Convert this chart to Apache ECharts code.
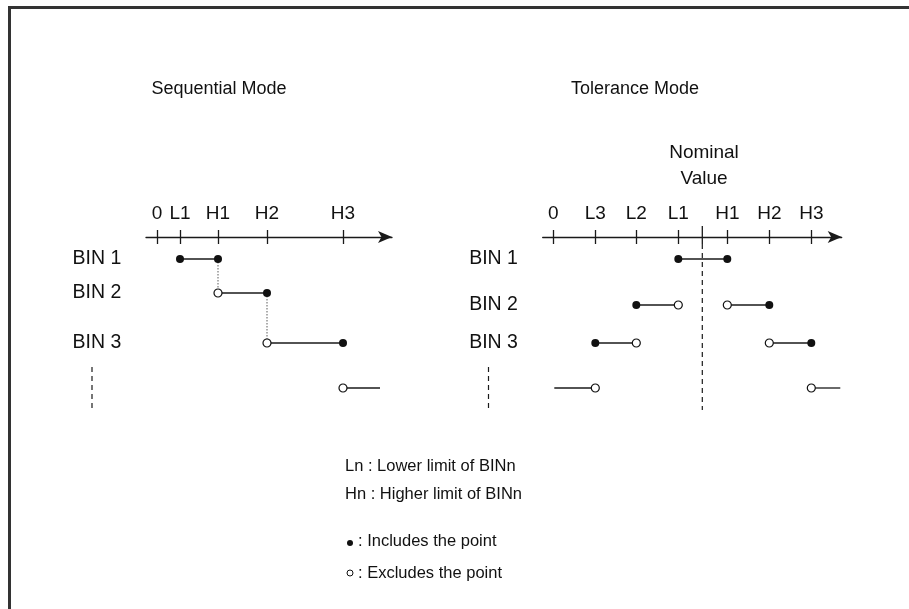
<!DOCTYPE html>
<html><head><meta charset="utf-8">
<script src="https://cdn.jsdelivr.net/npm/echarts@6/dist/echarts.min.js"></script>
<style>html,body{margin:0;padding:0;background:#fff}#c{width:909px;height:609px}</style>
</head><body><div id="c"></div>
<script>
// ---------- Sequential Mode ----------
const seqTickLabels = ['0', 'L1', 'H1', 'H2', 'H3'];
const seqTickValues = [0, 23, 61, 110, 186];
const seqBinLabels = ['BIN 1', 'BIN 2', 'BIN 3'];
const seqRowValues = [22, 56, 106, 151];          // BIN1, BIN2, BIN3, continuation row
// [from, to, rowIndex, fromIncluded, toIncluded]  (null = open-ended, no marker)
const seqSegments = [
  [23, 61, 0, true, true],
  [61, 110, 1, false, true],
  [110, 186, 2, false, true],
  [186, 223, 3, false, null]
];
// dotted links: [x, fromRow, toRow]
const seqLinks = [[61, 0, 1], [110, 1, 2]];

// ---------- Tolerance Mode ----------
const tolTickLabels = ['0', 'L3', 'L2', 'L1', 'H1', 'H2', 'H3'];
const tolTickValues = [0, 42, 83, 125, 174, 216, 258];
const tolNominal = 149;
const tolBinLabels = ['BIN 1', 'BIN 2', 'BIN 3'];
const tolRowValues = [22, 68, 106, 151];
const tolSegments = [
  [125, 174, 0, true, true],
  [83, 125, 1, true, false],
  [174, 216, 1, false, true],
  [42, 83, 2, true, false],
  [216, 258, 2, false, true],
  [1, 42, 3, null, false],
  [258, 287, 3, false, null]
];
const ellipsisRows = [130, 175];

// ---------- Notes ----------
const noteLines = ['Ln : Lower limit of BINn', 'Hn : Higher limit of BINn'];
const markerNotes = [': Includes the point', ': Excludes the point'];

const FONT = '"Liberation Sans", Arial, sans-serif';
const FS = 19;
const TXT = '#111';
const INK = '#1a1a1a';

const chart = echarts.init(document.getElementById('c'));

const panels = [
  { left: 146, width: 246, min: -11, max: 235, ticks: seqTickValues, labels: seqTickLabels,
    rows: seqRowValues, bins: seqBinLabels, segments: seqSegments, links: seqLinks, nominal: null, ellLeft: 80 },
  { left: 542.7, width: 299, min: -10.6, max: 288.4, ticks: tolTickValues, labels: tolTickLabels,
    rows: tolRowValues, bins: tolBinLabels, segments: tolSegments, links: [], nominal: tolNominal, ellLeft: 476.5 }
];

const grid = [], xAxis = [], yAxis = [], series = [];
panels.forEach((p, gi) => {
  grid.push({ left: p.left, width: p.width, top: 237, height: 200 });
  const lblMap = {};
  p.ticks.forEach((v, i) => { lblMap[v] = p.labels[i]; });
  const base = {
    gridIndex: gi, type: 'value', min: p.min, max: p.max, position: 'top',
    splitLine: { show: false }
  };
  xAxis.push(Object.assign({}, base, {
    axisLine: { show: true, onZero: false, symbol: ['none', 'arrow'], symbolSize: [9, 14],
      lineStyle: { color: INK, width: 1.3 } },
    axisTick: { show: true, customValues: p.ticks, length: 7, lineStyle: { color: INK, width: 1.3 } },
    axisLabel: { show: true, customValues: p.ticks, formatter: v => lblMap[v] || '',
      margin: 14, fontSize: FS, fontFamily: FONT, color: TXT }
  }));
  xAxis.push(Object.assign({}, base, {
    axisLine: { show: false, onZero: false },
    axisTick: { show: true, inside: true, customValues: p.ticks, length: 7, lineStyle: { color: INK, width: 1.3 } },
    axisLabel: { show: false }
  }));
  const binRows = p.rows.slice(0, p.bins.length);
  const binMap = {};
  binRows.forEach((v, i) => { binMap[v] = p.bins[i]; });
  yAxis.push({
    gridIndex: gi, type: 'value', inverse: true, min: 0, max: 200,
    axisLine: { show: false }, axisTick: { show: false }, splitLine: { show: false },
    axisLabel: { show: true, customValues: binRows, formatter: v => binMap[v] || '',
      align: 'left', margin: 73.5, fontSize: FS + 0.5, fontFamily: FONT, color: TXT }
  });
  const xi = gi * 2, yi = gi;
  const common = { xAxisIndex: xi, yAxisIndex: yi, silent: true, animation: false };
  p.segments.forEach(s => {
    const y = p.rows[s[2]];
    series.push(Object.assign({ type: 'line', data: [[s[0], y], [s[1], y]], symbol: 'none',
      lineStyle: { color: INK, width: 1.3 }, z: 2, clip: false }, common));
  });
  p.links.forEach(l => {
    series.push(Object.assign({ type: 'line', data: [[l[0], p.rows[l[1]]], [l[0], p.rows[l[2]]]], symbol: 'none',
      lineStyle: { color: '#777', width: 1.2, type: [1.5, 1.5] }, z: 1, clip: false }, common));
  });
  const closed = [], open = [];
  p.segments.forEach(s => {
    const y = p.rows[s[2]];
    if (s[3] === true) closed.push([s[0], y]); else if (s[3] === false) open.push([s[0], y]);
    if (s[4] === true) closed.push([s[1], y]); else if (s[4] === false) open.push([s[1], y]);
  });
  series.push(Object.assign({ type: 'scatter', data: closed, symbol: 'circle', symbolSize: 8,
    itemStyle: { color: '#111', opacity: 1 }, z: 5, clip: false }, common));
  series.push(Object.assign({ type: 'scatter', data: open, symbol: 'circle', symbolSize: 8,
    itemStyle: { color: '#fff', borderColor: '#111', borderWidth: 1.2, opacity: 1 }, z: 5, clip: false }, common));
  if (p.nominal != null) {
    series.push(Object.assign({ type: 'line', data: [[p.nominal, -11], [p.nominal, 7]], symbol: 'none',
      lineStyle: { color: INK, width: 1.3 }, z: 3, clip: false }, common));
    series.push(Object.assign({ type: 'line', data: [[p.nominal, 7], [p.nominal, 173]], symbol: 'none',
      lineStyle: { color: INK, width: 1.2, type: [5, 4] }, z: 1, clip: false }, common));
  }
});

// small grids holding the vertical "continues" ellipsis under each BIN label column
panels.forEach((p, k) => {
  const gi = grid.length;
  grid.push({ left: p.ellLeft, width: 24, top: 237, height: 200 });
  xAxis.push({ gridIndex: gi, type: 'value', min: -1, max: 1, show: false });
  yAxis.push({ gridIndex: gi, type: 'value', inverse: true, min: 0, max: 200, show: false });
  series.push({ type: 'line', xAxisIndex: xAxis.length - 1, yAxisIndex: yAxis.length - 1, silent: true,
    animation: false, data: [[0, ellipsisRows[0]], [0, ellipsisRows[1]]], symbol: 'none',
    lineStyle: { color: INK, width: 1.2, type: [5, 4] } });
});

const txt = (text, x, y, align, fs) => ({ type: 'text', x: x, y: y, silent: true,
  style: { text: text, align: align || 'left', verticalAlign: 'middle', fontSize: fs || FS, fontFamily: FONT, fill: TXT } });

const graphic = [
  { type: 'rect', shape: { x: 9.5, y: 7.5, width: 1200, height: 1200 }, silent: true,
    style: { fill: 'none', stroke: '#333', lineWidth: 3 } },
  txt('Sequential Mode', 219, 89, 'center', 18),
  txt('Tolerance Mode', 635, 89, 'center', 18),
  txt('Nominal', 704, 153, 'center'),
  txt('Value', 704, 179, 'center'),
  txt(noteLines[0], 345, 466, 'left', 16.5),
  txt(noteLines[1], 345, 494, 'left', 16.5),
  { type: 'circle', shape: { cx: 350, cy: 543, r: 3 }, silent: true, style: { fill: '#111' } },
  { type: 'circle', shape: { cx: 350, cy: 573, r: 3 }, silent: true, style: { fill: '#fff', stroke: '#111', lineWidth: 1 } },
  txt(markerNotes[0], 358, 541, 'left', 16.5),
  txt(markerNotes[1], 358, 573, 'left', 16.5)
];

chart.setOption({ animation: false, grid, xAxis, yAxis, series, graphic });
</script>
</body></html>
